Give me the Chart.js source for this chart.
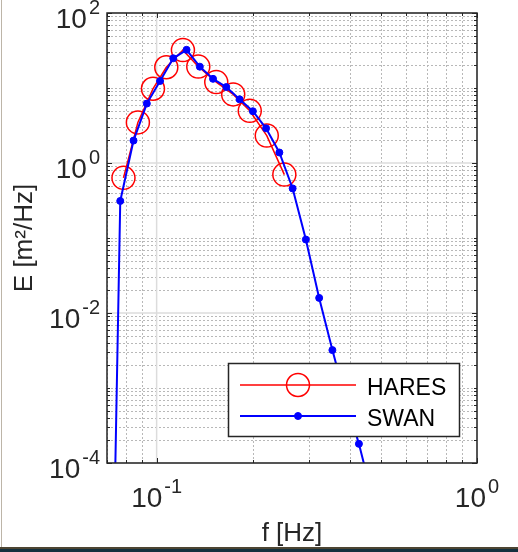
<!DOCTYPE html>
<html>
<head>
<meta charset="utf-8">
<script src="https://cdn.jsdelivr.net/npm/chart.js@4.4.1/dist/chart.umd.min.js"></script>
<style>
  html, body { margin: 0; padding: 0; background: #fff; overflow: hidden; }
  #wrap { position: relative; width: 518px; height: 552px; }
  #chart { position: absolute; left: 0; top: 0; }
  #edgeLeft { position: absolute; left: 1px; top: 0; width: 1px; height: 547px; background: #bdb5a8; }
  #edgeBottom { position: absolute; left: 0; top: 547px; width: 518px; height: 5px;
    background: linear-gradient(#4d4533 0, #4d4533 2px, #14303e 2px); }
</style>
</head>
<body>
<div id="wrap">
  <canvas id="chart" width="518" height="552"></canvas>
  <div id="edgeLeft"></div>
  <div id="edgeBottom"></div>
</div>
<script>
// Frequencies [Hz] and energy density [m^2/Hz]
const haresFreq = [0.0788, 0.0874, 0.0974, 0.1072, 0.1208, 0.1349, 0.1535, 0.1734, 0.1953, 0.2207, 0.2504];
const haresE    = [0.634, 3.48, 9.77, 18.9, 32.0, 19.3, 12.0, 8.22, 4.96, 2.32, 0.70];

const swanFreq = [0.0700, 0.0770, 0.0847, 0.0932, 0.1025, 0.1127, 0.1240, 0.1364, 0.1500, 0.1650,
                  0.1815, 0.1997, 0.2196, 0.2416, 0.2658, 0.2923, 0.3216, 0.3537, 0.3891, 0.4280, 0.4708];
const swanE    = [1e-10, 0.312, 1.99, 6.2, 12.4, 24.9, 32.3, 19.25, 13.25, 10.3,
                  7.06, 4.90, 2.90, 1.38, 0.458, 0.0954, 0.0159, 0.0032, 0.0007, 0.00018, 0.000036];

// Axis ticks (labelled decades) and their exponents
const xTicks = [0.1, 1];
const xTickExp = ['-1', '0'];
const yTicks = [1e-4, 1e-2, 1, 100];
const yTickExp = ['-4', '-2', '0', '2'];

const xMin = 0.07, xMax = 1;
const yMin = 1e-4, yMax = 100;

const FONT = '"Liberation Sans", Arial, sans-serif';
const AXIS_COLOR = '#262626';

// every 1..9 x 10^n inside a range (grid / minor ticks)
function logSteps(min, max) {
  const out = [];
  for (let e = Math.floor(Math.log10(min)); e <= Math.ceil(Math.log10(max)); e++) {
    for (let m = 1; m <= 9; m++) {
      const v = +(m * Math.pow(10, e)).toPrecision(6);
      if (v >= min * 0.9999 && v <= max * 1.0001) out.push(v);
    }
  }
  return out;
}

// "10" with a raised exponent, y is the baseline of the "10"
function drawPow(ctx, exp, x, y, align) {
  ctx.font = '28px ' + FONT;
  const wb = ctx.measureText('10').width;
  ctx.font = '20px ' + FONT;
  const we = ctx.measureText(exp).width;
  const gap = 2;
  const total = wb + gap + we;
  const start = align === 'right' ? x - total : x - total / 2;
  ctx.textAlign = 'left';
  ctx.textBaseline = 'alphabetic';
  ctx.font = '28px ' + FONT;
  ctx.fillText('10', start, y);
  ctx.font = '20px ' + FONT;
  ctx.fillText(exp, start + wb + gap, y - 14);
}

const gridPlugin = {
  id: 'matlabGrid',
  beforeDatasetsDraw(chart) {
    const { ctx, chartArea: a, scales } = chart;
    const xs = scales.x, ys = scales.y;
    ctx.save();
    // minor dotted grid
    ctx.strokeStyle = '#b8b8b8';
    ctx.lineWidth = 1;
    ctx.setLineDash([2, 2]);
    logSteps(xMin, xMax).filter(v => !xTicks.includes(v)).forEach(v => {
      const px = Math.round(xs.getPixelForValue(v)) + 0.5;
      ctx.beginPath(); ctx.moveTo(px, a.top); ctx.lineTo(px, a.bottom); ctx.stroke();
    });
    logSteps(yMin, yMax).filter(v => !yTicks.includes(v)).forEach(v => {
      const py = Math.round(ys.getPixelForValue(v)) + 0.5;
      ctx.beginPath(); ctx.moveTo(a.left, py); ctx.lineTo(a.right, py); ctx.stroke();
    });
    // major solid grid
    ctx.setLineDash([]);
    ctx.strokeStyle = '#dcdcdc';
    ctx.lineWidth = 1.5;
    xTicks.forEach(v => {
      const px = xs.getPixelForValue(v);
      ctx.beginPath(); ctx.moveTo(px, a.top); ctx.lineTo(px, a.bottom); ctx.stroke();
    });
    yTicks.forEach(v => {
      const py = ys.getPixelForValue(v);
      ctx.beginPath(); ctx.moveTo(a.left, py); ctx.lineTo(a.right, py); ctx.stroke();
    });
    ctx.restore();
  },
  afterDraw(chart) {
    const { ctx, chartArea: a, scales } = chart;
    const xs = scales.x, ys = scales.y;
    ctx.save();
    ctx.strokeStyle = AXIS_COLOR;
    ctx.fillStyle = AXIS_COLOR;

    // tick marks, pointing inward on all four sides
    ctx.lineWidth = 1;
    logSteps(xMin, xMax).forEach(v => {
      const len = xTicks.includes(v) ? 5 : 3;
      const px = Math.round(xs.getPixelForValue(v)) + 0.5;
      ctx.beginPath();
      ctx.moveTo(px, a.bottom); ctx.lineTo(px, a.bottom - len);
      ctx.moveTo(px, a.top); ctx.lineTo(px, a.top + len);
      ctx.stroke();
    });
    logSteps(yMin, yMax).forEach(v => {
      const len = yTicks.includes(v) ? 5 : 3;
      const py = Math.round(ys.getPixelForValue(v)) + 0.5;
      ctx.beginPath();
      ctx.moveTo(a.left, py); ctx.lineTo(a.left + len, py);
      ctx.moveTo(a.right, py); ctx.lineTo(a.right - len, py);
      ctx.stroke();
    });

    // axes box
    ctx.lineWidth = 1.5;
    ctx.strokeRect(a.left, a.top, a.right - a.left, a.bottom - a.top);

    // tick labels
    xTicks.forEach((v, i) => drawPow(ctx, xTickExp[i], xs.getPixelForValue(v), a.bottom + 44, 'center'));
    yTicks.forEach((v, i) => drawPow(ctx, yTickExp[i], a.left - 7, ys.getPixelForValue(v) + 15, 'right'));

    // axis titles
    ctx.font = '26px ' + FONT;
    ctx.textAlign = 'center';
    ctx.textBaseline = 'alphabetic';
    ctx.fillText('f [Hz]', (a.left + a.right) / 2, a.bottom + 78);
    ctx.save();
    ctx.translate(32, (a.top + a.bottom) / 2);
    ctx.rotate(-Math.PI / 2);
    ctx.fillText('E [m²/Hz]', 0, 0);
    ctx.restore();

    // legend box
    const lx = 228.5, ly = 363.5, lw = 231, lh = 73;
    ctx.fillStyle = '#ffffff';
    ctx.fillRect(lx, ly, lw, lh);
    ctx.strokeStyle = AXIS_COLOR;
    ctx.lineWidth = 1.5;
    ctx.strokeRect(lx, ly, lw, lh);
    const rows = [chart.data.datasets[0], chart.data.datasets[1]];
    const rowY = [385, 416];
    rows.forEach((ds, i) => {
      const y = rowY[i];
      ctx.strokeStyle = ds.borderColor;
      ctx.lineWidth = ds.borderWidth;
      ctx.beginPath(); ctx.moveTo(240, y); ctx.lineTo(356, y); ctx.stroke();
      ctx.beginPath();
      ctx.arc(298, y, ds.pointRadius, 0, Math.PI * 2);
      if (ds.pointBackgroundColor !== 'transparent') {
        ctx.fillStyle = ds.pointBackgroundColor;
        ctx.fill();
      }
      ctx.lineWidth = ds.pointBorderWidth;
      ctx.stroke();
      ctx.fillStyle = '#000000';
      ctx.font = '23px ' + FONT;
      ctx.textAlign = 'left';
      ctx.fillText(ds.label, 367, y + 10);
    });
    ctx.restore();
  }
};

new Chart(document.getElementById('chart').getContext('2d'), {
  type: 'line',
  data: {
    datasets: [
      {
        label: 'HARES',
        data: haresFreq.map((f, i) => ({ x: f, y: haresE[i] })),
        borderColor: '#ff0000',
        borderWidth: 1.5,
        pointRadius: 11.5,
        pointBorderWidth: 1.5,
        pointBorderColor: '#ff0000',
        pointBackgroundColor: 'transparent',
        tension: 0,
        order: 1
      },
      {
        label: 'SWAN',
        data: swanFreq.map((f, i) => ({ x: f, y: swanE[i] })),
        borderColor: '#0000ff',
        borderWidth: 2,
        pointRadius: 3.5,
        pointBorderWidth: 1,
        pointBorderColor: '#0000ff',
        pointBackgroundColor: '#0000ff',
        tension: 0,
        order: 0
      }
    ]
  },
  options: {
    responsive: false,
    animation: false,
    devicePixelRatio: 1,
    layout: { padding: { left: 107, right: 41, top: 8, bottom: 89 } },
    plugins: { legend: { display: false }, tooltip: { enabled: false } },
    scales: {
      x: { type: 'logarithmic', min: xMin, max: xMax, display: false },
      y: { type: 'logarithmic', min: yMin, max: yMax, display: false }
    }
  },
  plugins: [gridPlugin]
});
</script>
</body>
</html>
